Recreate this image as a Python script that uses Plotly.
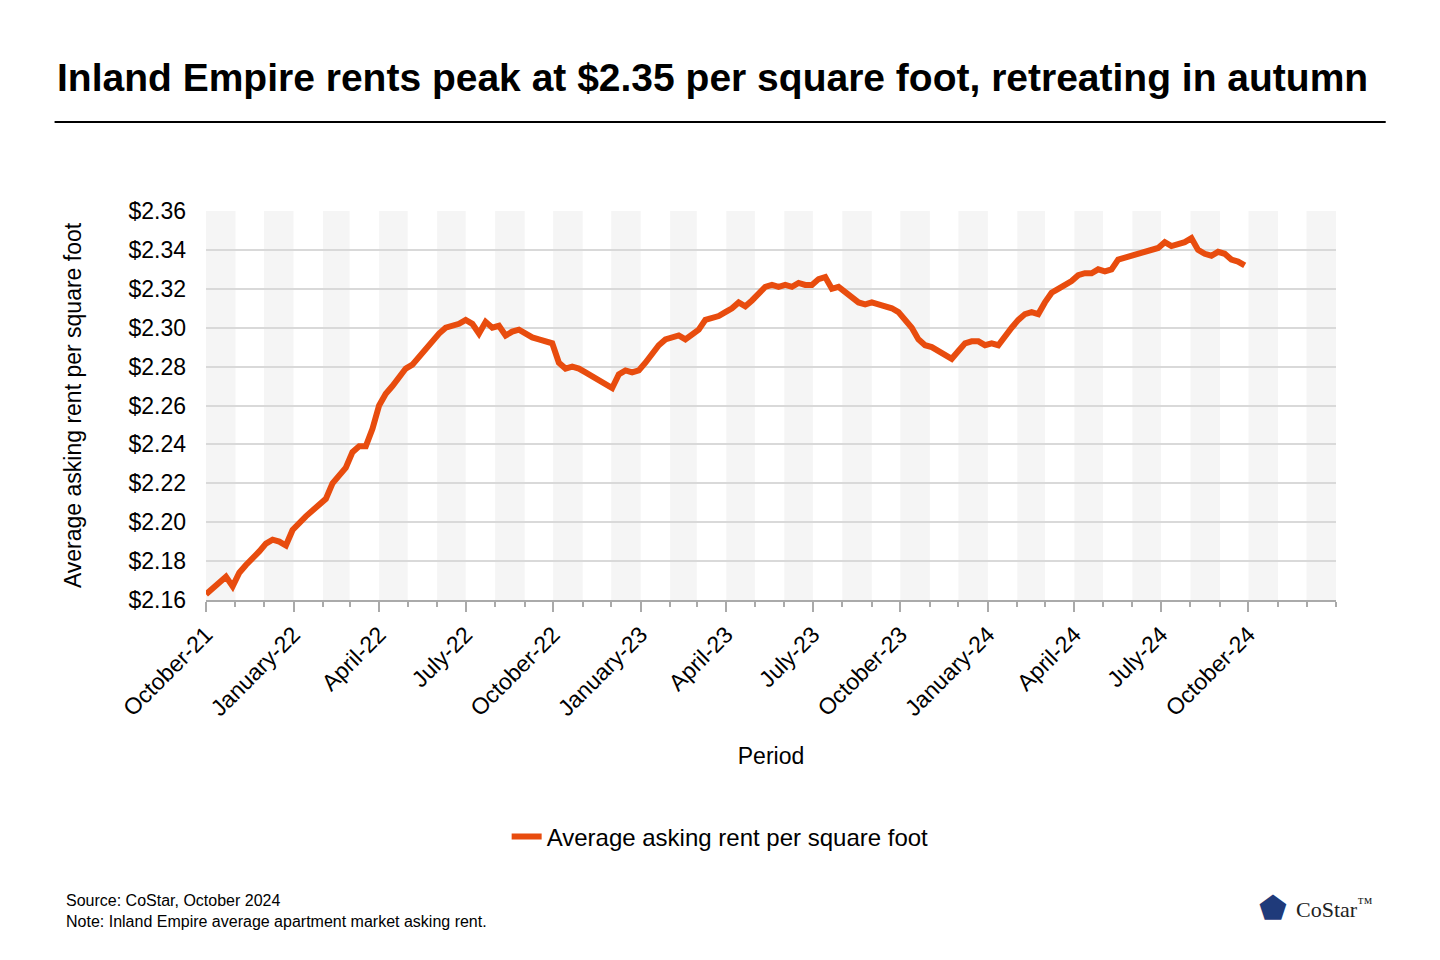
import plotly.graph_objects as go
import pandas as pd

start_date = "2021-10-01"
rent = [
    2.163, 2.166, 2.168, 2.172, 2.167, 2.174, 2.178, 2.181, 2.185, 2.189, 2.191, 2.190, 2.188,
    2.196, 2.200, 2.203, 2.206, 2.209, 2.212, 2.220, 2.224, 2.228, 2.236, 2.239, 2.239, 2.248,
    2.260, 2.266, 2.270, 2.275, 2.279, 2.281, 2.285, 2.290, 2.293, 2.297, 2.300, 2.301, 2.302,
    2.304, 2.302, 2.297, 2.303, 2.300, 2.301, 2.296, 2.298, 2.299, 2.297, 2.295, 2.294, 2.293,
    2.292, 2.282, 2.279, 2.280, 2.279, 2.277, 2.275, 2.273, 2.271, 2.269, 2.276, 2.278, 2.277,
    2.278, 2.282, 2.287, 2.291, 2.294, 2.295, 2.296, 2.294, 2.297, 2.299, 2.304, 2.305, 2.306,
    2.308, 2.310, 2.313, 2.311, 2.314, 2.317, 2.321, 2.322, 2.321, 2.322, 2.321, 2.323, 2.322,
    2.322, 2.325, 2.326, 2.320, 2.321, 2.318, 2.316, 2.313, 2.312, 2.313, 2.312, 2.311, 2.310,
    2.308, 2.304, 2.300, 2.294, 2.291, 2.290, 2.288, 2.286, 2.284, 2.288, 2.292, 2.293, 2.293,
    2.291, 2.292, 2.291, 2.296, 2.300, 2.304, 2.307, 2.308, 2.307, 2.313, 2.318, 2.320, 2.322,
    2.324, 2.327, 2.328, 2.328, 2.330, 2.329, 2.330, 2.335, 2.336, 2.337, 2.338, 2.339, 2.340,
    2.341, 2.344, 2.342, 2.343, 2.344, 2.346, 2.340, 2.338, 2.337, 2.339, 2.338, 2.335, 2.334,
    2.332,
]
dates = pd.date_range(start_date, periods=len(rent), freq="7D")

tick_dates = pd.date_range("2021-10-01", "2024-10-01", freq="3MS")
tick_labels = [d.strftime("%B-%y") for d in tick_dates]
months = pd.date_range("2021-10-01", "2025-01-01", freq="MS")

fig = go.Figure()

# alternating monthly bands
for i in range(0, len(months) - 1, 2):
    fig.add_shape(type="rect", xref="x", yref="paper", x0=months[i], x1=months[i + 1],
                  y0=0, y1=1, fillcolor="#f5f5f5", line_width=0, layer="below")

fig.add_trace(go.Scatter(
    x=dates, y=rent, mode="lines", name="Average asking rent per square foot",
    line=dict(color="#e84c0e", width=6),
))

fig.update_layout(
    width=1424, height=944,
    paper_bgcolor="white", plot_bgcolor="rgba(0,0,0,0)",
    font=dict(family="Arial, Liberation Sans", size=20, color="#000"),
    margin=dict(l=198, r=96, t=203, b=352),
    showlegend=True,
    legend=dict(orientation="h", x=0.455, xanchor="center", y=-0.609, yanchor="middle",
                font=dict(size=24)),
)
fig.update_xaxes(
    range=[months[0], months[-1]], tickmode="array", tickvals=tick_dates, ticktext=tick_labels,
    tickangle=-45, showgrid=False, showline=True, linecolor="#aaa", linewidth=2,
    ticks="outside", ticklen=10, tickcolor="#aaa", tickwidth=2,
    minor=dict(tickmode="array", tickvals=months, ticks="outside", ticklen=5, tickcolor="#aaa", tickwidth=2),
    title=dict(text="Period", font=dict(size=23), standoff=28), tickfont=dict(size=23),
)
fig.update_yaxes(
    range=[2.16, 2.36], dtick=0.02, tickformat="$.2f", gridcolor="#d9d9d9", gridwidth=2,
    zeroline=False, ticklabelstandoff=19,
    title=dict(text="Average asking rent per square foot", font=dict(size=23), standoff=40),
    tickfont=dict(size=23),
)

fig.add_annotation(xref="paper", yref="paper", x=0.448, y=1.344, xanchor="center", yanchor="middle",
                   showarrow=False, font=dict(size=39),
                   text="<b>Inland Empire rents peak at $2.35 per square foot, retreating in autumn</b>")
# rule under the title and outer border
fig.add_shape(type="line", xref="paper", yref="paper", x0=-0.134, x1=1.044, y0=1.229, y1=1.229,
              line=dict(color="#000", width=2))
fig.add_shape(type="rect", xref="paper", yref="paper", x0=-0.1805, x1=1.090, y0=-0.920, y1=1.537,
              line=dict(color="#c0c0c0", width=2))

fig.add_annotation(xref="paper", yref="paper", x=-0.1257, y=-0.80, xanchor="left", yanchor="middle",
                   showarrow=False, align="left", font=dict(size=16),
                   text="Source: CoStar, October 2024<br>Note: Inland Empire average apartment market asking rent.")
fig.add_annotation(xref="paper", yref="paper", x=0.93, y=-0.792, xanchor="left", yanchor="middle",
                   showarrow=False, font=dict(size=32, color="#1f3a7a"), text="⬟")
fig.add_annotation(xref="paper", yref="paper", x=0.963, y=-0.792, xanchor="left", yanchor="middle",
                   showarrow=False, font=dict(size=22, color="#222", family="Liberation Serif"),
                   text="CoStar<sup>™</sup>")

fig.write_html("out.html")
